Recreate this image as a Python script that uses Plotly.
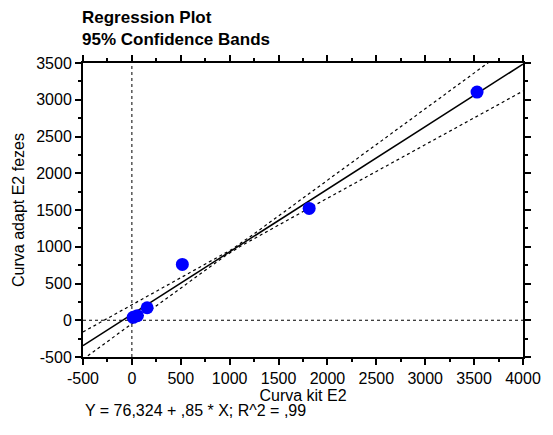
import numpy as np
import plotly.graph_objects as go

# Data
kit_e2 = [13, 56, 156, 516, 1813, 3530]          # x: Curva kit E2
adapt_e2 = [40, 62, 170, 760, 1522, 3104]        # y: Curva adapt E2 fezes
tick_vals = [-500, 0, 500, 1000, 1500, 2000, 2500, 3000, 3500, 4000]
tick_text = ["-500", "0", "500", "1000", "1500", "2000", "2500", "3000", "3500", "4000"]
ytick_vals = [-500, 0, 500, 1000, 1500, 2000, 2500, 3000, 3500]
ytick_text = ["-500", "0", "500", "1000", "1500", "2000", "2500", "3000", "3500"]
x_range = [-500, 4000]
y_range = [-500, 3500]
band_k = 0.1225      # band half-width growth (y units per x unit)
band_floor = 120     # minimum half-width offset term
eq_text = "Y = 76,324 + ,85 * X; R^2 = ,99"

x = np.array(kit_e2, float)
y = np.array(adapt_e2, float)
slope, intercept = np.polyfit(x, y, 1)
xbar = x.mean()

xs = np.linspace(x_range[0], x_range[1], 300)
yhat = intercept + slope * xs
hw = band_k * np.sqrt(band_floor ** 2 + (xs - xbar) ** 2)

font = "Liberation Sans, Arial, sans-serif"
fig = go.Figure()
fig.add_trace(go.Scatter(x=xs, y=yhat, mode="lines",
                         line=dict(color="black", width=1.5), showlegend=False))
fig.add_trace(go.Scatter(x=xs, y=yhat + hw, mode="lines",
                         line=dict(color="black", width=1.2, dash="dot"), showlegend=False))
fig.add_trace(go.Scatter(x=xs, y=yhat - hw, mode="lines",
                         line=dict(color="black", width=1.2, dash="dot"), showlegend=False))
fig.add_trace(go.Scatter(x=kit_e2, y=adapt_e2, mode="markers",
                         marker=dict(color="#0000FF", size=13), showlegend=False,
                         cliponaxis=False))

fig.add_shape(type="line", xref="x", yref="paper", x0=0, x1=0, y0=0, y1=1,
              line=dict(color="black", width=1, dash="dot"), layer="below")
fig.add_shape(type="line", xref="paper", yref="y", x0=0, x1=1, y0=0, y1=0,
              line=dict(color="black", width=1, dash="dot"), layer="below")

axis_common = dict(
    showgrid=False, zeroline=False, showline=True, linecolor="black", linewidth=2,
    mirror="ticks", ticks="outside", ticklen=6, tickwidth=1.5, tickcolor="black",
    tickfont=dict(family=font, size=16, color="black"),
    minor=dict(ticks="outside", ticklen=3, tickwidth=1.5, tickcolor="black", dtick=250),
)
fig.update_xaxes(range=x_range, tickmode="array", tickvals=tick_vals, ticktext=tick_text,
                 title=dict(text="Curva kit E2", font=dict(family=font, size=16, color="black"),
                            standoff=0),
                 **axis_common)
fig.update_yaxes(range=y_range, tickmode="array", tickvals=ytick_vals, ticktext=ytick_text,
                 title=dict(text="Curva adapt E2 fezes", font=dict(family=font, size=16, color="black"),
                            standoff=8),
                 **axis_common)

fig.add_annotation(xref="paper", yref="paper", x=-0.007, y=1.04, xanchor="left", yanchor="bottom",
                   text="<b>Regression Plot</b><br><b>95% Confidence Bands</b>", showarrow=False,
                   align="left", font=dict(family=font, size=17, color="black"))
fig.add_annotation(xref="paper", yref="paper", x=0.0, y=-0.145, xanchor="left", yanchor="top",
                   text=eq_text, showarrow=False, align="left",
                   font=dict(family=font, size=16, color="black"))

fig.update_layout(width=553, height=435, margin=dict(l=83, r=20, t=63, b=78),
                  plot_bgcolor="white", paper_bgcolor="white")
fig.write_html("out.html")
